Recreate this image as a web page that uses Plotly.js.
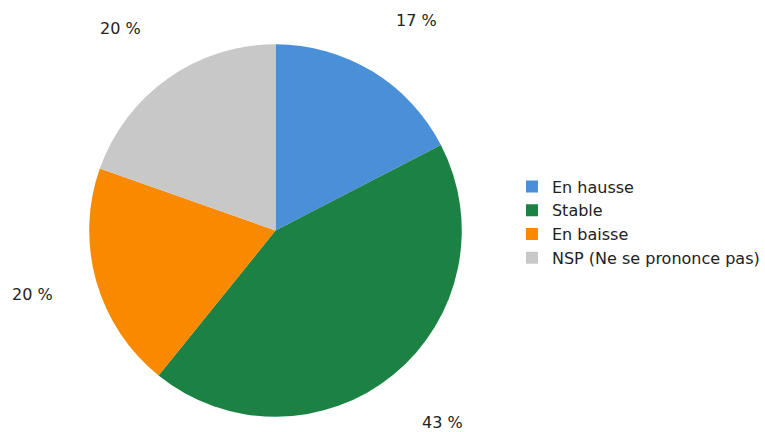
<!DOCTYPE html>
<html>
<head>
<meta charset="utf-8">
<script src="https://cdn.plot.ly/plotly-3.0.1.min.js"></script>
<style>html,body{margin:0;padding:0;background:#fff;}#chart{width:765px;height:432px;}</style>
</head>
<body>
<div id="chart"></div>
<script>
const categories = ["En hausse", "Stable", "En baisse", "NSP (Ne se prononce pas)"];
const values = [17.4, 43.4, 19.6, 19.6];
const colors = ["#4A90D9", "#1B8244", "#F98A00", "#C8C8C8"];
const fontFamily = "Tahoma, 'DejaVu Sans', Verdana, sans-serif";

const W = 765, H = 432;
const cx = 279.5, cy = 230.5, R = 189;
const domX = [(cx - R) / W, (cx + R) / W];
const domY = [(H - cy - R) / H, (H - cy + R) / H];

// labels placed outside the pie, anchored toward the slice mid-angle
const total = values.reduce((a, b) => a + b, 0);
const annotations = [];
let cum = 0;
values.forEach((v, i) => {
  const mid = (cum + v / 2) / total * 2 * Math.PI;
  cum += v;
  const rr = 234;
  const s = Math.sin(mid), c = Math.cos(mid);
  const px = cx + rr * s;
  const py = cy - rr * c;
  annotations.push({
    x: px / W, y: (H - py) / H, xref: "paper", yref: "paper",
    text: Math.round(v) + " %", showarrow: false,
    xanchor: Math.abs(s) < 0.2 ? "center" : (s > 0 ? "left" : "right"),
    yanchor: Math.abs(c) < 0.4 ? "middle" : (c > 0 ? "bottom" : "top"),
    borderpad: 0,
    font: {family: fontFamily, size: 16, color: "#222"}
  });
});

const data = [{
  type: "pie",
  labels: categories,
  values: values,
  sort: false,
  direction: "clockwise",
  rotation: 0,
  textinfo: "none",
  hoverinfo: "label+percent",
  marker: {colors: colors, line: {width: 0}},
  domain: {x: domX, y: domY}
}];

const layout = {
  width: W, height: H,
  margin: {l: 0, r: 0, t: 0, b: 0},
  paper_bgcolor: "#fff",
  showlegend: true,
  legend: {
    x: 0.679, y: 0.485, xanchor: "left", yanchor: "middle",
    font: {family: fontFamily, size: 16, color: "#222"},
    traceorder: "normal"
  },
  annotations: annotations
};

Plotly.newPlot("chart", data, layout, {displayModeBar: false, staticPlot: true});
</script>
</body>
</html>
